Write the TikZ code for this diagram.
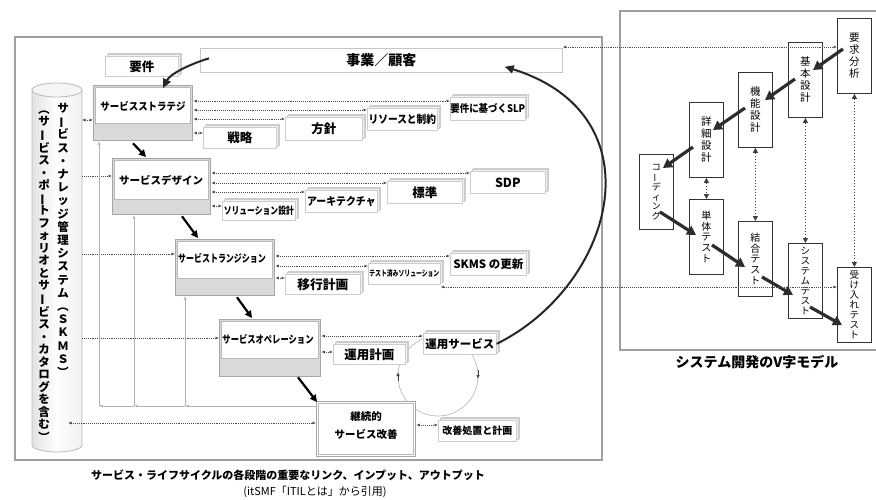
\documentclass[tikz,border=0pt]{standalone}
\usepackage{fontspec}
\usepackage{graphicx}
\setmainfont{Noto Sans CJK JP}
\usetikzlibrary{arrows.meta,shadows,calc}
\newcommand\jvbar{\rotatebox[origin=c]{90}{ー}}
\newcommand\jvlp{\rotatebox[origin=c]{-90}{（}}
\newcommand\jvrp{\rotatebox[origin=c]{-90}{）}}
\newcommand\sx[2]{\scalebox{#1}[1]{#2}}
\newcommand\jfs[1]{\fontsize{#1}{#1}\selectfont}
\begin{document}
\begin{tikzpicture}[x=1pt,y=-1pt,
  frame/.style={draw=gray!75, line width=1.8pt},
  stage/.style={draw=gray!70, line width=1.3pt, fill=gray!30, inner sep=0, anchor=north west},
  obox/.style={draw=gray!40, fill=white, line width=0.7pt, inner sep=0, anchor=north west, font=\bfseries,
     double copy shadow={shadow xshift=1.6pt, shadow yshift=1.6pt, fill=gray!10, draw=gray!40}},
  dl/.style={gray!60!black, densely dotted, line width=0.9pt},
  bi/.style={arrows={Latex[length=3.5pt,width=3pt]-Latex[length=3.5pt,width=3pt]}},
  fw/.style={arrows={-Latex[length=3.5pt,width=3pt]}},
  fb/.style={gray!60, line width=0.6pt},
  chain/.style={black, line width=2.2pt, arrows={-Triangle[length=7pt,width=7pt]}},
  bigcurve/.style={gray!30!black, line width=2pt, arrows={-Triangle[length=9pt,width=8pt]}},
  vbox/.style={draw=black!80, line width=0.8pt, fill=white, inner sep=0, anchor=north west,
     minimum width=34pt, minimum height=75pt, align=center, font=\fontsize{9.5}{10}\selectfont},
  varr/.style={gray!35!black, line width=3.2pt, arrows={-Triangle[length=9pt,width=10pt]}},
  vdot/.style={gray!50!black, dotted, line width=1pt, arrows={Triangle[length=5pt,width=5pt]-Triangle[length=5pt,width=5pt]}},
  stxt/.style={font=\bfseries\jfs{10.5}}
]
\useasboundingbox (0,0) rectangle (876,499);

% ===== left frame =====
\draw[frame] (15,37) rectangle (602,460);

% cylinder
\path[draw=gray!55, line width=0.8pt, left color=gray!22, right color=gray!12, middle color=white]
  (32,90) -- (32,445) arc[start angle=180, end angle=360, x radius=25pt, y radius=7pt] -- (82,90) -- cycle;
\draw[gray!55, line width=0.8pt, fill=gray!8] (57,90) ellipse[x radius=25pt, y radius=7pt];
\coordinate (cy) at (82,0);
\coordinate (cyin) at (68,423);
\node[anchor=north, align=center, font=\bfseries\fontsize{11.5}{13.2}\selectfont, inner sep=0] (col1) at (63,103)
 {サ\\\jvbar\\ビ\\ス\\・\\ナ\\レ\\ッ\\ジ\\管\\理\\シ\\ス\\テ\\ム\\\jvlp\\Ｓ\\Ｋ\\Ｍ\\Ｓ\\\jvrp};
\node[anchor=north, align=center, font=\bfseries\fontsize{11.5}{12.5}\selectfont, inner sep=0] (col2) at (44,103)
 {\jvlp\\サ\\\jvbar\\ビ\\ス\\・\\ポ\\\jvbar\\ト\\フ\\ォ\\リ\\オ\\と\\サ\\\jvbar\\ビ\\ス\\・\\カ\\タ\\ロ\\グ\\を\\含\\む\\\jvrp};

% circle (behind boxes)
\draw[gray!55, line width=0.7pt] (438,376) circle[radius=40pt];
\draw[gray!55!black, line width=0.6pt, arrows={-Latex[length=4pt,width=3.5pt]}] (398,381) -- (398,372);
\draw[gray!55!black, line width=0.6pt, arrows={-Latex[length=4pt,width=3.5pt]}] (478,370) -- (478,379);

% stage boxes
\node[stage, minimum width=99pt, minimum height=55pt] (st) at (93,85) {};
\draw[gray!55, line width=0.5pt, fill=white] ($(st.north west)+(2.5,2.5)$) rectangle ($(st.north east)+(-3,38)$);
\node[stxt] (stt) at (143,106) {\sx{0.9}{サービスストラテジ}};

\node[stage, minimum width=98pt, minimum height=56pt] (de) at (112,158) {};
\draw[gray!55, line width=0.5pt, fill=white] ($(de.north west)+(2.5,2.5)$) rectangle ($(de.north east)+(-3,41)$);
\node[stxt] (det) at (161,180) {サービスデザイン};

\node[stage, minimum width=99pt, minimum height=56pt] (tr) at (175,239) {};
\draw[gray!55, line width=0.5pt, fill=white] ($(tr.north west)+(2.5,2.5)$) rectangle ($(tr.north east)+(-3,39)$);
\node[stxt] (trt) at (222,258) {\sx{0.76}{サービストランジション}};

\node[stage, minimum width=101pt, minimum height=57pt] (op) at (219,319) {};
\draw[gray!55, line width=0.5pt, fill=white] ($(op.north west)+(2.5,2.5)$) rectangle ($(op.north east)+(-3,39)$);
\node[stxt] (opt) at (268,339) {\sx{0.79}{サービスオペレーション}};

\node[stage, fill=white, minimum width=99pt, minimum height=55pt] (csi) at (316,401) {};
\draw[gray!55, line width=0.5pt] ($(csi.north west)+(2.5,2.5)$) rectangle ($(csi.south east)+(-3,-3)$);
\node[align=center, font=\bfseries\fontsize{10.5}{18}\selectfont] (csit) at (366,426) {継続的\\サービス改善};

% business box and output boxes
\node[draw=gray!45, fill=white, line width=0.7pt, inner sep=0, anchor=north west, minimum width=362pt, minimum height=24pt,
  font=\bfseries\jfs{14}] (jigyo) at (200,48) {事業／顧客};
\node[obox, minimum width=73pt, minimum height=20pt] (yoken) at (105,56) {\jfs{12.5}要件};
\node[obox, minimum width=73pt, minimum height=21pt] (senryaku) at (203,127) {\jfs{12.5}戦略};
\node[obox, minimum width=77pt, minimum height=23pt] (hoshin) at (285,117) {\jfs{12.5}方針};
\node[obox, minimum width=70pt, minimum height=22pt] (resource) at (367,108) {\jfs{11}\sx{0.88}{リソースと制約}};
\node[obox, minimum width=74pt, minimum height=23pt] (slp) at (450,97) {\jfs{10.5}\sx{0.9}{要件に基づくSLP}};
\node[obox, minimum width=73pt, minimum height=19pt] (sol) at (222,201) {\jfs{10}\sx{0.78}{ソリューション設計}};
\node[obox, minimum width=72pt, minimum height=22pt] (arch) at (305,190) {\jfs{11}\sx{0.9}{アーキテクチャ}};
\node[obox, minimum width=75pt, minimum height=22pt] (std) at (387,181) {\jfs{12.5}標準};
\node[obox, minimum width=75pt, minimum height=22pt] (sdp) at (470,171) {\jfs{12.5}SDP};
\node[obox, minimum width=75pt, minimum height=20pt] (ikou) at (285,274) {\jfs{12.8}移行計画};
\node[obox, minimum width=72pt, minimum height=21pt] (tested) at (368,263) {\jfs{8}\sx{0.73}{テスト済みソリューション}};
\node[obox, minimum width=76pt, minimum height=22pt] (skms) at (450,253) {\jfs{11.5}SKMS の更新};
\node[obox, minimum width=72pt, minimum height=20pt] (unyokei) at (333,344) {\jfs{12.5}運用計画};
\node[obox, minimum width=73pt, minimum height=21pt] (us) at (423,333) {\jfs{11.5}運用サービス};
\node[obox, minimum width=78pt, minimum height=21pt] (kaizen) at (438,420) {\jfs{10}改善処置と計画};

% connectors stage <-> outputs
\draw[dl,bi] (st.east |- 0,101) -- (slp.west |- 0,101);
\draw[dl,bi] (st.east |- 0,110) -- (resource.west |- 0,110);
\draw[dl,bi] (st.east |- 0,119) -- (hoshin.west |- 0,119);
\draw[dl,bi] (st.east |- 0,133) -- (senryaku.west |- 0,133);
\draw[dl,bi] (de.east |- 0,173) -- (sdp.west |- 0,173);
\draw[dl,bi] (de.east |- 0,183) -- (std.west |- 0,183);
\draw[dl,bi] (de.east |- 0,192) -- (arch.west |- 0,192);
\draw[dl,bi] (de.east |- 0,206) -- (sol.west |- 0,206);
\draw[dl,bi] (tr.east |- 0,256) -- (skms.west |- 0,256);
\draw[dl,bi] (tr.east |- 0,266) -- (tested.west |- 0,266);
\draw[dl,bi] (tr.east |- 0,278) -- (ikou.west |- 0,278);
\draw[dl,bi] (op.east |- 0,336) -- (us.west |- 0,336);
\draw[dl,bi] (op.east |- 0,352) -- (unyokei.west |- 0,352);
\draw[dl,bi] (csi.east |- 0,425) -- (kaizen.west |- 0,425);

% cylinder connectors
\draw[dl,bi] (cy |- 0,120) -- (st.west |- 0,120);
\draw[dl,fw] (cy |- 0,176) -- (de.west |- 0,176);
\draw[dl,fw] (cy |- 0,254) -- (tr.west |- 0,254);
\draw[dl,fw] (cy |- 0,338) -- (op.west |- 0,338);
\draw[dl,bi] (cyin) -- (csi.west |- cyin);

% feedback lines from CSI
\coordinate (j1) at (185,406);
\coordinate (j2) at (134,406);
\coordinate (j3) at (99,406);
\draw[fb,fw] (csi.west |- j1) -- (j1);
\draw[fb,fw] (j1) -- (j2);
\draw[fb,fw] (j2) -- (j3);
\draw[fb,fw] (j1) -- (tr.south -| j1);
\draw[fb,fw] (j2) -- (de.south -| j2);
\draw[fb,fw] (j3) -- (st.south -| j3);

% stage chain
\draw[chain] ($(st.south west)+(40,2)$) -- ($(de.north west)+(34,-1)$);
\draw[chain] ($(de.south west)+(70,1)$) -- ($(tr.north west)+(23,-1)$);
\draw[chain] ($(tr.south west)+(62,1)$) -- ($(op.north west)+(33,-1)$);
\draw[chain] ($(op.south west)+(79,0)$) -- ($(csi.north west)+(1,1)$);

% big curves
\draw[bigcurve] ($(jigyo.west)+(9,-2)$) .. controls (190,64) and (170,74) .. ($(st.north)+(20,3)$);
\draw[bigcurve] (us.east) .. controls (615,285) and (660,115) .. ($(jigyo.south east)+(-58,-6)$);

% captions
\node[font=\bfseries\jfs{11}] (cap1) at (288,475) {サービス・ライフサイクルの各段階の重要なリンク、インプット、アウトプット};
\node[font=\jfs{11}] (cap2) at (315,492) {(itSMF「ITILとは」から引用)};

% ===== V model =====
\draw[frame] (876,11) -- (620,11) -- (620,350) -- (876,350);
\node[vbox, font=\fontsize{10.5}{12}\selectfont] (req) at (837,18) {要\\求\\分\\析};
\node[vbox, font=\fontsize{10.5}{12}\selectfont] (kihon) at (788,42) {基\\本\\設\\計};
\node[vbox, font=\fontsize{10.5}{12}\selectfont] (kino) at (738,72) {機\\能\\設\\計};
\node[vbox, font=\fontsize{10.5}{12}\selectfont] (shosai) at (689,102) {詳\\細\\設\\計};
\node[vbox, font=\fontsize{9}{9.5}\selectfont] (coding) at (639,154) {コ\\\jvbar\\デ\\ィ\\ン\\グ};
\node[vbox, font=\fontsize{10}{10.8}\selectfont] (tantai) at (689,199) {単\\体\\テ\\ス\\ト};
\node[vbox, font=\fontsize{10}{10.8}\selectfont] (ketsugo) at (738,221) {結\\合\\テ\\ス\\ト};
\node[vbox] (system) at (788,243) {シ\\ス\\テ\\ム\\テ\\ス\\ト};
\node[vbox] (ukeire) at (837,267) {受\\け\\入\\れ\\テ\\ス\\ト};

\draw[varr] ($(req.north west)+(6,31)$) -- ($(kihon.north west)+(25,28)$);
\draw[varr] ($(kihon.north west)+(7,37)$) -- ($(kino.north west)+(27,28)$);
\draw[varr] ($(kino.north west)+(7,36)$) -- ($(shosai.north west)+(24,28)$);
\draw[varr] ($(shosai.north west)+(4,45)$) -- ($(coding.north west)+(24,14)$);
\draw[varr] ($(coding.north west)+(21,58)$) -- ($(tantai.north west)+(7,36)$);
\draw[varr] ($(tantai.north west)+(23,46)$) -- ($(ketsugo.north west)+(7,46)$);
\draw[varr] ($(ketsugo.north west)+(24,56)$) -- ($(system.north west)+(5,52)$);
\draw[varr] ($(system.north west)+(22,64)$) -- ($(ukeire.north west)+(5,58)$);

\draw[vdot] (shosai.south) -- (tantai.north);
\draw[vdot] (kino.south) -- (ketsugo.north);
\draw[vdot] (kihon.south) -- (system.north);
\draw[vdot] (req.south) -- (ukeire.north);

% cross-panel dotted lines
\draw[dl,bi] (jigyo.north east |- 0,47) -- (req.west |- 0,47);
\draw[dl,bi] (tested.east |- 0,287) -- (ukeire.west |- 0,287);

\node[font=\bfseries\jfs{14}] (cap3) at (757,362) {システム開発のV字モデル};
\end{tikzpicture}
\end{document}
